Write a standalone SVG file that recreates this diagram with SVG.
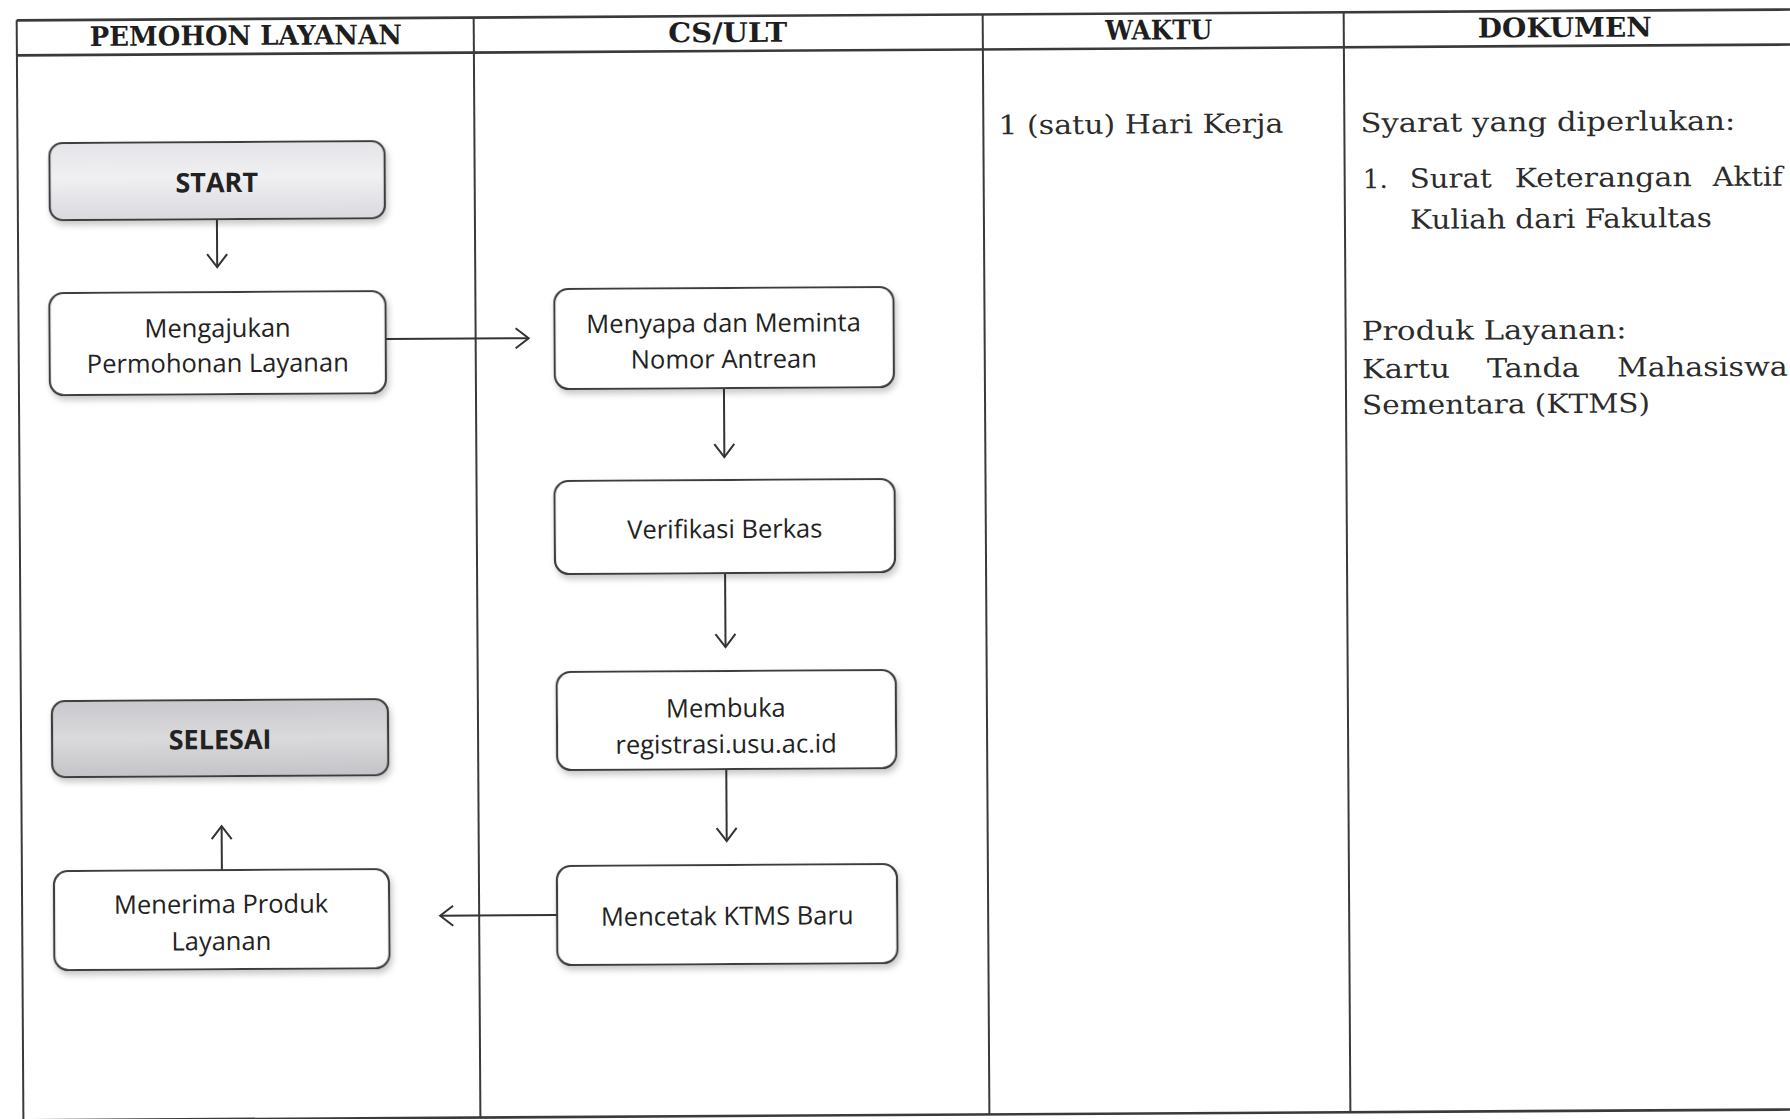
<svg xmlns="http://www.w3.org/2000/svg" width="1790" height="1119" viewBox="0 0 1790 1119">
  <defs>
    <style>
      .grid { stroke: #3a3a3a; stroke-width: 2; fill: none; }
      .grid-bold { stroke: #3a3a3a; stroke-width: 2.6; fill: none; }
      .hdr { font-family: "DejaVu Serif", "Liberation Serif", serif; font-weight: bold; font-size: 27px; fill: #1e1e1e; text-anchor: middle; }
      .doc { font-family: "DejaVu Serif", "Liberation Serif", serif; font-size: 26.5px; fill: #2c2c2c; }
      .box { fill: #ffffff; stroke: #3c3c3c; stroke-width: 2.2; filter: url(#shadow); }
      .box-start { fill: url(#gStart); stroke: #3c3c3c; stroke-width: 2.2; filter: url(#shadow); }
      .box-end { fill: url(#gEnd); stroke: #3c3c3c; stroke-width: 2.2; filter: url(#shadow); }
      .lbl { font-family: "Open Sans", "Liberation Sans", sans-serif; font-size: 25.5px; fill: #222; text-anchor: middle; }
      .term { font-weight: bold; font-size: 27px; }
      .conn { stroke: #333; stroke-width: 2; fill: none; marker-end: url(#arr); }
    </style>
    <marker id="arr" markerUnits="userSpaceOnUse" viewBox="-15 -13 17 26" refX="0" refY="0" markerWidth="17" markerHeight="26" orient="auto">
      <path d="M-13,-10 L0,0 L-13,10" fill="none" stroke="#333" stroke-width="2"/>
    </marker>
    <linearGradient id="gStart" x1="0" y1="0" x2="0" y2="1">
      <stop offset="0" stop-color="#e4e4e8"/>
      <stop offset="0.45" stop-color="#f0f0f3"/>
      <stop offset="1" stop-color="#dadade"/>
    </linearGradient>
    <linearGradient id="gEnd" x1="0" y1="0" x2="0" y2="1">
      <stop offset="0" stop-color="#c9c9cd"/>
      <stop offset="0.5" stop-color="#dadadd"/>
      <stop offset="1" stop-color="#c4c4c8"/>
    </linearGradient>
    <filter id="shadow" x="-10%" y="-20%" width="120%" height="150%">
      <feDropShadow dx="2" dy="4" stdDeviation="3" flood-color="#000" flood-opacity="0.22"/>
    </filter>
  </defs>

  <rect x="0" y="0" width="1790" height="1119" fill="#ffffff"/>

  <g transform="rotate(-0.35 895 560)">
    <!-- table frame and lane dividers -->
    <g id="table">
      <line class="grid-bold" x1="20" y1="15" x2="1820" y2="15"/>
      <line class="grid-bold" x1="20" y1="50" x2="1820" y2="50"/>
      <line class="grid-bold" x1="20" y1="1115" x2="1820" y2="1115"/>
      <line class="grid" x1="20" y1="15" x2="20" y2="1115"/>
      <line class="grid" x1="477" y1="15" x2="477" y2="1115"/>
      <line class="grid" x1="986" y1="15" x2="986" y2="1115"/>
      <line class="grid" x1="1347" y1="15" x2="1347" y2="1115"/>
    </g>

    <!-- column headings -->
    <g id="headers">
      <text class="hdr" x="249" y="41" textLength="312" lengthAdjust="spacingAndGlyphs">PEMOHON LAYANAN</text>
      <text class="hdr" x="731" y="41" textLength="119" lengthAdjust="spacingAndGlyphs">CS/ULT</text>
      <text class="hdr" x="1162" y="41" textLength="107" lengthAdjust="spacingAndGlyphs">WAKTU</text>
      <text class="hdr" x="1568" y="41" textLength="174" lengthAdjust="spacingAndGlyphs">DOKUMEN</text>
    </g>

    <!-- flow connectors -->
    <g id="connectors">
      <line class="conn" x1="219" y1="215" x2="219" y2="263"/>
      <line class="conn" x1="387" y1="336" x2="530" y2="336"/>
      <line class="conn" x1="725" y1="387" x2="725" y2="456"/>
      <line class="conn" x1="725" y1="572" x2="725" y2="646"/>
      <line class="conn" x1="725" y1="768" x2="725" y2="840"/>
      <line class="conn" x1="555" y1="913" x2="438" y2="913"/>
      <line class="conn" x1="220" y1="866" x2="220" y2="822"/>
    </g>

    <!-- process steps -->
    <g id="node-start">
      <rect class="box-start" x="52" y="138" width="335" height="77" rx="13"/>
      <text class="lbl term" x="219" y="188">START</text>
    </g>
    <g id="node-mengajukan">
      <rect class="box" x="51" y="288" width="336" height="102" rx="14"/>
      <text class="lbl" x="219" y="333">Mengajukan</text>
      <text class="lbl" x="219" y="368">Permohonan Layanan</text>
    </g>
    <g id="node-menyapa">
      <rect class="box" x="556" y="287" width="339" height="100" rx="14"/>
      <text class="lbl" x="725" y="331">Menyapa dan Meminta</text>
      <text class="lbl" x="725" y="367">Nomor Antrean</text>
    </g>
    <g id="node-verifikasi">
      <rect class="box" x="555" y="479" width="340" height="93" rx="14"/>
      <text class="lbl" x="725" y="537">Verifikasi Berkas</text>
    </g>
    <g id="node-membuka">
      <rect class="box" x="556" y="670" width="339" height="98" rx="14"/>
      <text class="lbl" x="725" y="716">Membuka</text>
      <text class="lbl" x="725" y="752">registrasi.usu.ac.id</text>
    </g>
    <g id="node-mencetak">
      <rect class="box" x="555" y="864" width="340" height="99" rx="14"/>
      <text class="lbl" x="725" y="924">Mencetak KTMS Baru</text>
    </g>
    <g id="node-menerima">
      <rect class="box" x="52" y="866" width="335" height="99" rx="14"/>
      <text class="lbl" x="219" y="909">Menerima Produk</text>
      <text class="lbl" x="219" y="946">Layanan</text>
    </g>
    <g id="node-selesai">
      <rect class="box-end" x="51" y="696" width="336" height="76" rx="13"/>
      <text class="lbl term" x="219" y="745">SELESAI</text>
    </g>

    <!-- time column -->
    <g id="waktu">
      <text class="doc" x="1001" y="135" textLength="285" lengthAdjust="spacingAndGlyphs">1 (satu) Hari Kerja</text>
    </g>

    <!-- documents column -->
    <g id="dokumen">
      <text class="doc" x="1363" y="135" textLength="375" lengthAdjust="spacingAndGlyphs">Syarat yang diperlukan:</text>
      <text class="doc" x="1365" y="191">1.</text>
      <text class="doc" x="1412" y="191" textLength="82" lengthAdjust="spacingAndGlyphs">Surat</text>
      <text class="doc" x="1517" y="191" textLength="177" lengthAdjust="spacingAndGlyphs">Keterangan</text>
      <text class="doc" x="1715" y="191" textLength="70" lengthAdjust="spacingAndGlyphs">Aktif</text>
      <text class="doc" x="1412" y="232" textLength="302" lengthAdjust="spacingAndGlyphs">Kuliah dari Fakultas</text>
      <text class="doc" x="1363" y="343" textLength="265" lengthAdjust="spacingAndGlyphs">Produk Layanan:</text>
      <text class="doc" x="1363" y="381" textLength="88" lengthAdjust="spacingAndGlyphs">Kartu</text>
      <text class="doc" x="1488" y="381" textLength="93" lengthAdjust="spacingAndGlyphs">Tanda</text>
      <text class="doc" x="1618" y="381" textLength="171" lengthAdjust="spacingAndGlyphs">Mahasiswa</text>
      <text class="doc" x="1363" y="417" textLength="288" lengthAdjust="spacingAndGlyphs">Sementara (KTMS)</text>
    </g>
  </g>
</svg>
